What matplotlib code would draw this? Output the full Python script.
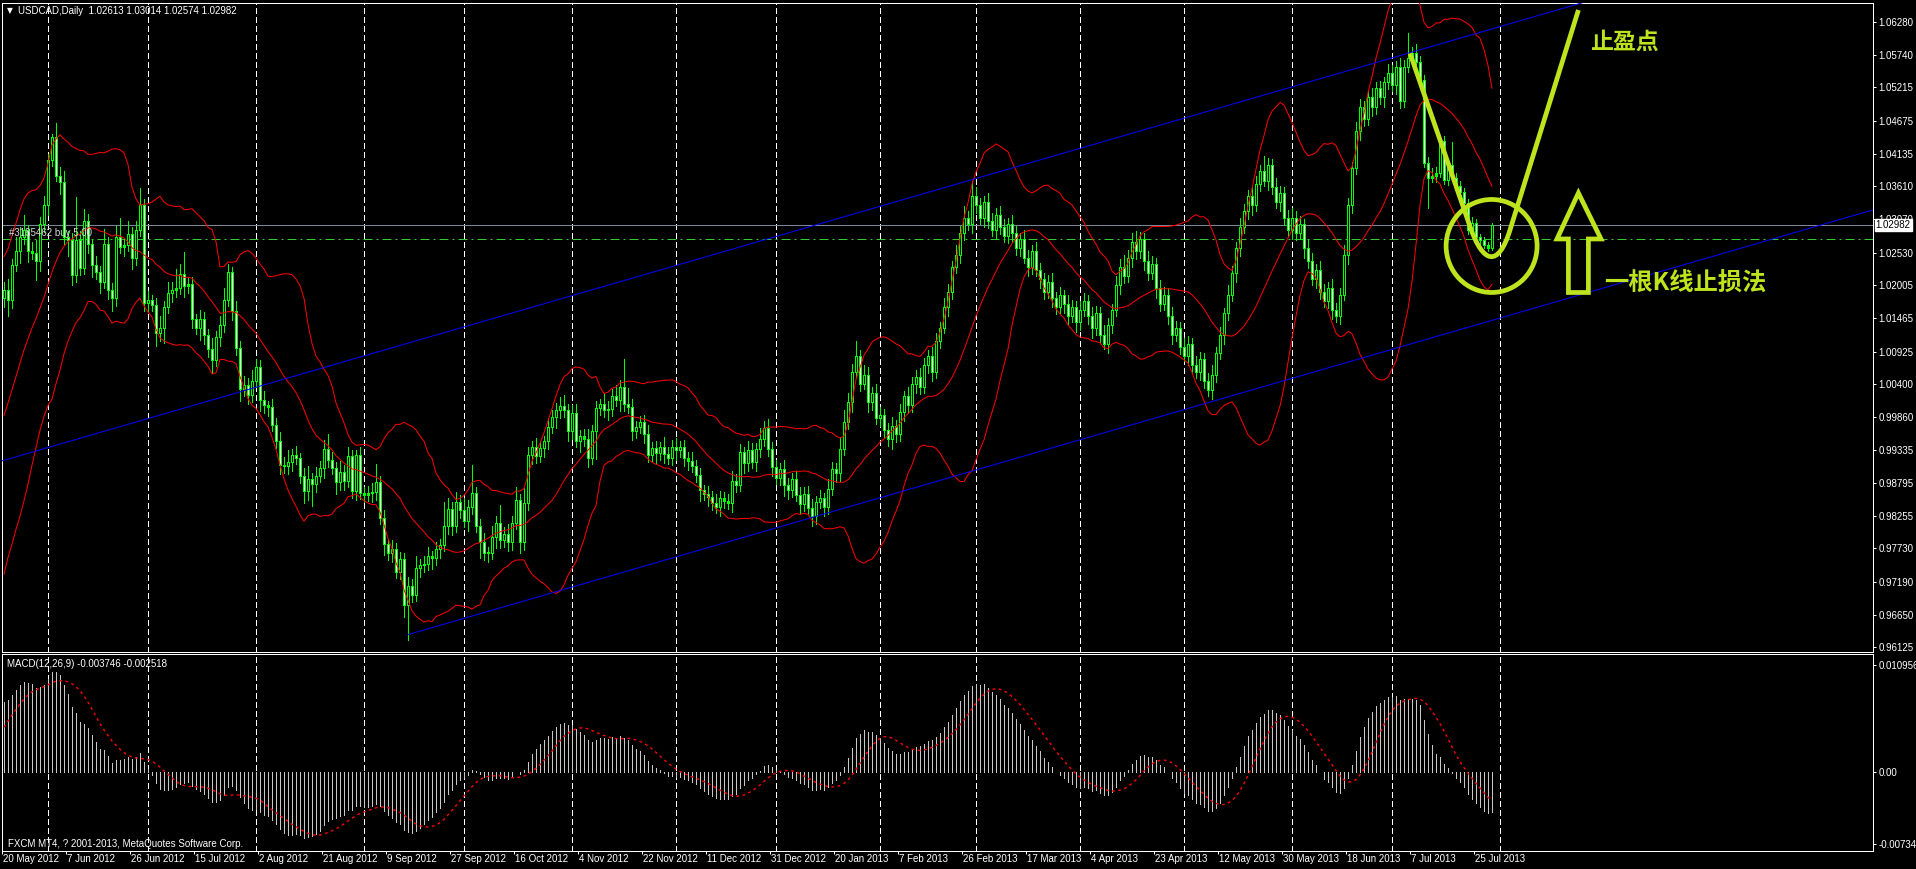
import numpy as np
import pandas as pd
import matplotlib
matplotlib.use("Agg")
import matplotlib.pyplot as plt
from matplotlib.patches import Ellipse, Polygon, PathPatch
from matplotlib.path import Path
from matplotlib.transforms import blended_transform_factory

plt.rcParams['font.family'] = ['Liberation Sans', 'DejaVu Sans']

# ---------------- data ----------------
symbol = "USDCAD,Daily"
last_open, last_high, last_low, last_close = 1.02613, 1.03014, 1.02574, 1.02982
bid_price = 1.02982
order_label = "#3185462 buy 5.00"
order_price = 1.02748
macd_shown = (-0.003746, -0.002518)

# estimated off-screen history (needed for the indicators at the left edge)
prior_closes = [
    0.9990, 0.9975, 1.0005, 0.9980, 0.9960, 0.9985, 0.9950, 0.9935, 0.9960, 0.9920,
    0.9905, 0.9930, 0.9890, 0.9875, 0.9895, 0.9860, 0.9845, 0.9870, 0.9830, 0.9815,
    0.9795, 0.9776, 0.9805, 0.9815, 0.9850, 0.9858, 0.9895, 0.9902, 0.9940, 0.9948,
    0.9985, 0.9992, 1.0030, 1.0038, 1.0075, 1.0082, 1.0120, 1.0128, 1.0165, 1.0180,
]

closes = [
    1.0193, 1.0176, 1.0233, 1.0256, 1.0279, 1.0290, 1.0256, 1.0253, 1.0239, 1.0299,
    1.0330, 1.0404, 1.0441, 1.0378, 1.0367, 1.0279, 1.0273, 1.0216, 1.0273, 1.0228,
    1.0304, 1.0267, 1.0233, 1.0222, 1.0205, 1.0267, 1.0193, 1.0179, 1.0279, 1.0262,
    1.0265, 1.0284, 1.0245, 1.0290, 1.0330, 1.0171, 1.0176, 1.0168, 1.0122, 1.0131,
    1.0165, 1.0188, 1.0193, 1.0196, 1.0219, 1.0199, 1.0202, 1.0145, 1.0131, 1.0145,
    1.0119, 1.0096, 1.0079, 1.0116, 1.0136, 1.0176, 1.0222, 1.0159, 1.0099, 1.0031,
    1.0039, 1.0022, 1.0045, 1.0068, 1.0014, 1.0005, 1.0003, 0.9974, 0.9948, 0.9909,
    0.9906, 0.9914, 0.9925, 0.9920, 0.9891, 0.9866, 0.9886, 0.9877, 0.9891, 0.9903,
    0.9934, 0.9917, 0.9903, 0.9880, 0.9897, 0.9883, 0.9923, 0.9866, 0.9925, 0.9863,
    0.9860, 0.9863, 0.9864, 0.9880, 0.9823, 0.9780, 0.9766, 0.9772, 0.9735, 0.9755,
    0.9681, 0.9712, 0.9698, 0.9741, 0.9746, 0.9748, 0.9760, 0.9758, 0.9772, 0.9779,
    0.9809, 0.9837, 0.9809, 0.9849, 0.9835, 0.9817, 0.9840, 0.9863, 0.9809, 0.9783,
    0.9766, 0.9766, 0.9792, 0.9814, 0.9786, 0.9797, 0.9783, 0.9814, 0.9852, 0.9783,
    0.9846, 0.9925, 0.9937, 0.9923, 0.9936, 0.9947, 0.9970, 0.9987, 0.9997, 1.0004,
    0.9997, 0.9963, 0.9993, 0.9948, 0.9955, 0.9951, 0.9920, 0.9963, 1.0001, 1.0008,
    0.9997, 1.0000, 1.0021, 1.0014, 1.0035, 1.0008, 1.0003, 0.9964, 0.9970, 0.9978,
    0.9959, 0.9925, 0.9936, 0.9928, 0.9938, 0.9927, 0.9920, 0.9937, 0.9932, 0.9937,
    0.9919, 0.9915, 0.9907, 0.9892, 0.9868, 0.9862, 0.9856, 0.9847, 0.9840, 0.9854,
    0.9850, 0.9847, 0.9883, 0.9876, 0.9930, 0.9911, 0.9932, 0.9914, 0.9934, 0.9950,
    0.9968, 0.9935, 0.9905, 0.9888, 0.9902, 0.9876, 0.9868, 0.9885, 0.9860, 0.9845,
    0.9862, 0.9838, 0.9825, 0.9848, 0.9855, 0.9840, 0.9870, 0.9902, 0.9895, 0.9935,
    0.9978, 1.0010, 1.0060, 1.0085, 1.0040, 1.0055, 1.0010, 1.0025, 0.9985, 0.9990,
    0.9965, 0.9950, 0.9972, 0.9958, 0.9995, 1.0020, 1.0005, 1.0040, 1.0052, 1.0035,
    1.0070, 1.0085, 1.0060, 1.0110, 1.0130, 1.0165, 1.0190, 1.0230, 1.0250, 1.0285,
    1.0310, 1.0300, 1.0345, 1.0330, 1.0310, 1.0335, 1.0305, 1.0290, 1.0315, 1.0295,
    1.0280, 1.0300, 1.0285, 1.0260, 1.0275, 1.0245, 1.0230, 1.0255, 1.0225, 1.0210,
    1.0190, 1.0205, 1.0180, 1.0165, 1.0185, 1.0170, 1.0150, 1.0165, 1.0140, 1.0160,
    1.0175, 1.0150, 1.0130, 1.0155, 1.0120, 1.0105, 1.0135, 1.0160, 1.0200, 1.0230,
    1.0215, 1.0245, 1.0270, 1.0255, 1.0275, 1.0240, 1.0220, 1.0235, 1.0195, 1.0170,
    1.0185, 1.0150, 1.0120, 1.0130, 1.0100, 1.0085, 1.0105, 1.0070, 1.0060, 1.0080,
    1.0045, 1.0030, 1.0055, 1.0090, 1.0120, 1.0155, 1.0185, 1.0220, 1.0260, 1.0295,
    1.0320, 1.0345, 1.0330, 1.0365, 1.0385, 1.0370, 1.0395, 1.0360, 1.0335, 1.0350,
    1.0310, 1.0290, 1.0310, 1.0285, 1.0300, 1.0260, 1.0240, 1.0210, 1.0225, 1.0190,
    1.0175, 1.0195, 1.0160, 1.0150, 1.0185, 1.0250, 1.0330, 1.0390, 1.0450, 1.0490,
    1.0470, 1.0505, 1.0490, 1.0520, 1.0505, 1.0530, 1.0545, 1.0525, 1.0555, 1.0500,
    1.0554, 1.0569, 1.0577, 1.0563, 1.0533, 1.0398, 1.0375, 1.0378, 1.0382, 1.0434,
    1.0371, 1.0395, 1.0375, 1.0362, 1.0352, 1.0334, 1.0290, 1.0301, 1.0278, 1.0273,
    1.0265, 1.0261, 1.02982,
]

wick_up_pips = [
    12, 18, 10, 22, 15, 25, 8, 14, 20, 12,
    15, 10, 5, 22, 14, 18, 10, 12, 70, 15,
    20, 12, 8, 15, 10, 25, 12, 10, 18, 30,
    12, 20, 10, 15, 28, 10, 15, 8, 12, 20,
    10, 18, 12, 30, 15, 35, 10, 12, 8, 15,
    12, 10, 18, 10, 15, 20, 12, 8, 15, 10,
    14, 10, 18, 12, 10, 15, 8, 12, 10, 14,
    12, 18, 10, 15, 8, 12, 20, 10, 14, 12,
    15, 25, 12, 10, 18, 12, 15, 10, 8, 12,
    10, 12, 15, 30, 10, 12, 8, 15, 10, 12,
    10, 15, 12, 20, 10, 12, 15, 8, 12, 10,
    40, 18, 12, 15, 10, 20, 12, 45, 10, 12,
    15, 10, 18, 12, 30, 10, 15, 12, 20, 10,
    25, 12, 10, 15, 12, 8, 15, 10, 12, 15,
    18, 10, 12, 15, 10, 12, 15, 10, 12, 8,
    15, 12, 10, 18, 12, 45, 25, 12, 10, 10,
    12, 15, 10, 12, 8, 15, 10, 12, 15, 10,
    12, 10, 15, 10, 12, 8, 12, 10, 15, 12,
    10, 12, 15, 10, 12, 8, 15, 12, 10, 18,
    12, 15, 10, 12, 10, 15, 12, 10, 14, 12,
    10, 12, 15, 10, 12, 8, 15, 12, 10, 18,
    20, 15, 12, 25, 10, 15, 12, 10, 15, 12,
    10, 12, 15, 10, 12, 8, 15, 12, 10, 14,
    12, 10, 15, 12, 10, 15, 12, 10, 15, 12,
    18, 10, 25, 15, 12, 10, 15, 12, 10, 14,
    12, 10, 15, 12, 10, 15, 12, 10, 15, 12,
    10, 12, 15, 10, 12, 8, 15, 12, 10, 14,
    12, 10, 15, 12, 10, 15, 12, 10, 15, 12,
    20, 12, 15, 18, 12, 10, 15, 12, 10, 14,
    12, 10, 15, 12, 10, 15, 12, 10, 15, 12,
    10, 12, 15, 10, 12, 8, 15, 12, 10, 14,
    12, 10, 15, 12, 10, 25, 12, 10, 15, 12,
    10, 12, 15, 10, 12, 8, 15, 12, 10, 14,
    12, 10, 15, 12, 10, 15, 12, 10, 15, 12,
    10, 12, 15, 10, 12, 8, 15, 12, 10, 14,
    12, 41, 10, 15, 10, 8, 10, 12, 10, 3,
    8, 10, 38, 8, 8, 6, 6, 10, 6, 5,
    6, 5, 0,
]

wick_dn_pips = [
    15, 25, 12, 10, 20, 12, 18, 10, 30, 15,
    12, 15, 10, 8, 18, 12, 25, 15, 10, 12,
    10, 15, 20, 12, 18, 10, 15, 20, 12, 10,
    15, 10, 18, 12, 10, 12, 15, 10, 20, 12,
    25, 10, 15, 12, 10, 18, 12, 15, 10, 20,
    15, 12, 22, 10, 15, 12, 10, 15, 12, 18,
    10, 15, 12, 10, 18, 12, 15, 10, 12, 15,
    10, 12, 15, 10, 12, 20, 15, 35, 12, 10,
    15, 12, 10, 18, 12, 15, 10, 12, 15, 10,
    12, 10, 15, 12, 10, 18, 12, 15, 10, 12,
    20, 57, 12, 10, 15, 12, 10, 18, 12, 15,
    10, 12, 15, 10, 12, 10, 15, 12, 10, 25,
    12, 15, 10, 18, 12, 10, 15, 12, 10, 18,
    12, 10, 15, 12, 10, 15, 12, 10, 18, 12,
    10, 15, 12, 10, 18, 12, 15, 10, 45, 12,
    10, 15, 12, 10, 18, 12, 10, 15, 12, 10,
    15, 12, 10, 18, 12, 15, 10, 12, 15, 10,
    12, 15, 10, 12, 18, 10, 15, 12, 10, 14,
    12, 10, 15, 12, 10, 15, 12, 10, 15, 12,
    10, 12, 15, 10, 12, 18, 15, 12, 10, 14,
    12, 10, 15, 12, 10, 15, 12, 10, 15, 12,
    10, 12, 15, 10, 12, 8, 15, 12, 10, 14,
    12, 10, 15, 12, 10, 15, 12, 10, 15, 12,
    10, 12, 15, 10, 12, 8, 15, 12, 10, 14,
    12, 10, 15, 12, 10, 15, 12, 10, 15, 12,
    10, 12, 15, 10, 12, 8, 15, 12, 10, 14,
    12, 10, 15, 12, 10, 15, 12, 10, 15, 12,
    10, 12, 15, 10, 12, 8, 15, 12, 10, 14,
    12, 10, 15, 12, 10, 15, 12, 10, 15, 12,
    10, 12, 15, 10, 12, 8, 15, 12, 10, 14,
    12, 10, 15, 12, 10, 15, 12, 10, 15, 12,
    10, 12, 15, 10, 12, 8, 15, 12, 10, 14,
    12, 10, 15, 12, 10, 15, 12, 10, 15, 12,
    10, 12, 15, 10, 12, 8, 15, 12, 10, 14,
    12, 10, 15, 12, 10, 15, 12, 10, 15, 12,
    10, 8, 6, 5, 5, 6, 50, 8, 10, 6,
    6, 8, 5, 6, 5, 8, 6, 8, 5, 6,
    5, 5, 0,
]

date_labels = [
    "20 May 2012", "7 Jun 2012", "26 Jun 2012", "15 Jul 2012", "2 Aug 2012",
    "21 Aug 2012", "9 Sep 2012", "27 Sep 2012", "16 Oct 2012", "4 Nov 2012",
    "22 Nov 2012", "11 Dec 2012", "31 Dec 2012", "20 Jan 2013", "7 Feb 2013",
    "26 Feb 2013", "17 Mar 2013", "4 Apr 2013", "23 Apr 2013", "12 May 2013",
    "30 May 2013", "18 Jun 2013", "7 Jul 2013", "25 Jul 2013",
]
bars_per_label = 16
month_start_bars = [11, 36, 63, 90, 115, 142, 168, 193, 219, 243, 269, 295, 322, 347, 374]

price_ticks = [1.06280, 1.05740, 1.05215, 1.04675, 1.04135, 1.03610, 1.03070,
               1.02530, 1.02005, 1.01465, 1.00925, 1.00400, 0.99860, 0.99335,
               0.98795, 0.98255, 0.97730, 0.97190, 0.96650, 0.96125]
macd_ticks = [0.010956, 0.0, -0.00734]
macd_tick_labels = ["0.010956", "0.00", "-0.00734"]

# equidistant channel anchors (bar index, price)
channel_p1 = (0, 0.9916)
channel_p2 = (349, 1.0573)
channel_lower_start = (101, 0.9633)

# hand-drawn annotation anchors (bar index, price)
stroke_pts = [(351.5, 1.05767), (366.5, 1.02957), (369.8, 1.02334),
              (373.6, 1.02291), (376.5, 1.02898), (393.6, 1.06470)]
circle_center = (371.9, 1.02639)
circle_size = (22.75, 0.0151)
arrow_pts = [(393.6, 1.03499), (399.25, 1.02753), (396.1, 1.02753), (396.1, 1.01884),
             (391.1, 1.01884), (391.1, 1.02753), (388.25, 1.02753)]
text_tp = ("止盈点", 396.5, 1.0595)
text_sl = ("一根K线止损法", 400.0, 1.0203)

# ---------------- figure ----------------
W, H = 1916, 869
fig = plt.figure(figsize=(W / 100, H / 100), dpi=100, facecolor='black')


def px_axes(l, t, r, b):
    return fig.add_axes([l / W, 1 - b / H, (r - l) / W, (b - t) / H])


ax = px_axes(2, 3, 1873, 652)
axm = px_axes(2, 654, 1873, 851)
PX = 0.72  # one pixel in points

XMIN, XMAX = -0.5, 467.25
for a in (ax, axm):
    a.set_facecolor('black')
    a.set_xlim(XMIN, XMAX)
    for s in a.spines.values():
        s.set_color('white')
        s.set_linewidth(PX)
    a.yaxis.tick_right()
    a.tick_params(axis='y', colors='white', labelsize=7, length=2.2, width=PX, pad=1.6,
                  direction='out')
    for mb in month_start_bars:
        a.axvline(mb, color='white', lw=PX, ls=(0, (5.5, 4)), zorder=0.5, antialiased=False)

ax.set_ylim(0.960477, 1.065836)
axm.set_ylim(-0.008053, 0.012029)
ax.set_yticks(price_ticks)
ax.set_yticklabels([f"{v:.5f}" for v in price_ticks])
axm.set_yticks(macd_ticks)
axm.set_yticklabels(macd_tick_labels)
ax.set_xticks([])

label_bars = np.arange(len(date_labels)) * bars_per_label
axm.set_xticks(label_bars - 0.5)
axm.tick_params(axis='x', colors='white', length=2.2, width=PX, direction='out',
                labelbottom=False)
tr = blended_transform_factory(axm.transData, axm.transAxes)
for b, lab in zip(label_bars, date_labels):
    axm.text(b - 0.25, -0.042, lab, transform=tr, ha='left', va='center',
             fontsize=7, color='white', clip_on=False)

# ---------------- candles ----------------
n = len(closes)
x = np.arange(n)
c = np.array(closes, dtype=float)
o = np.empty(n)
o[0] = prior_closes[-1]
o[1:] = c[:-1]
o[-1] = last_open
hi = np.maximum(o, c) + np.array(wick_up_pips[:n]) * 1e-4
lo = np.minimum(o, c) - np.array(wick_dn_pips[:n]) * 1e-4
hi[-1], lo[-1] = last_high, last_low

ppx = (1.065836 - 0.960477) / 649.0
top = np.maximum(o, c)
bot = np.minimum(o, c)
thin = (top - bot) < ppx
top = np.where(thin, bot + ppx, top)

ax.vlines(x, lo, hi, color='#00FF00', lw=PX, zorder=3, antialiased=False)
ax.vlines(x, bot, top, color='#00FF00', lw=3 * PX, zorder=3.1, antialiased=False,
          capstyle='butt')
inner = (top - bot) > 2.5 * ppx
fill = np.where(c < o, 'white', 'black')
ax.vlines(x[inner], bot[inner] + ppx, top[inner] - ppx, colors=list(fill[inner]),
          lw=PX, zorder=3.2, antialiased=False, capstyle='butt')

# ---------------- indicators ----------------
allc = pd.Series(np.r_[prior_closes, c])
k = len(prior_closes)
mid = allc.rolling(20).mean()
sd = allc.rolling(20).std(ddof=0)
for band in (mid + 2 * sd, mid, mid - 2 * sd):
    ax.plot(x, band.values[k:], color='#FF0000', lw=PX, zorder=4)

ema12 = allc.ewm(span=12, adjust=False).mean()
ema26 = allc.ewm(span=26, adjust=False).mean()
macd = (ema12 - ema26)
signal = macd.rolling(9, min_periods=1).mean()
axm.vlines(x, 0, macd.values[k:], color='#C8C8C8', lw=PX, zorder=3, antialiased=False)
axm.plot(x, signal.values[k:], color='#FF0000', lw=1.0, ls=(0, (2, 2.5)), zorder=4)

# ---------------- lines / objects ----------------
ax.axhline(bid_price, color='#778899', lw=PX, zorder=2)
ax.axhline(order_price, color='#32CD32', lw=PX, ls=(0, (9, 4, 2, 4)), zorder=2)
ax.text(1.25, order_price + 0.00095, order_label, color='#D8D8D8', fontsize=7,
        ha='left', va='center', zorder=6)

slope = (channel_p2[1] - channel_p1[1]) / (channel_p2[0] - channel_p1[0])
xs = np.array([XMIN - 1, XMAX + 1])
ax.plot(xs, channel_p1[1] + slope * (xs - channel_p1[0]), color='#0000FF', lw=PX, zorder=5)
xl = np.array([channel_lower_start[0], XMAX + 1])
ax.plot(xl, channel_lower_start[1] + slope * (xl - channel_lower_start[0]),
        color='#0000FF', lw=PX, zorder=5)

ax.text(1.0015, bid_price, f"{bid_price:.5f}", transform=ax.get_yaxis_transform(),
        ha='left', va='center', fontsize=7, color='black', zorder=10, clip_on=False,
        bbox=dict(boxstyle='square,pad=0.12', fc='white', ec='white'))

# ---------------- annotations ----------------
ann = '#BEE41E'
codes = [Path.MOVETO, Path.LINETO, Path.CURVE4, Path.CURVE4, Path.CURVE4, Path.LINETO]
ax.add_patch(PathPatch(Path(stroke_pts, codes), fill=False, ec=ann, lw=3.4,
                       capstyle='butt', joinstyle='round', zorder=7))
ax.add_patch(Ellipse(circle_center, circle_size[0], circle_size[1], fill=False,
                     ec=ann, lw=3.4, zorder=7))
ax.add_patch(Polygon(arrow_pts, closed=True, fill=False, ec=ann, lw=3.4,
                     joinstyle='miter', zorder=7))
cjk = ['Noto Sans CJK SC', 'DejaVu Sans']
ax.text(text_tp[1], text_tp[2], text_tp[0], color=ann, fontsize=16.5, fontweight='bold',
        family=cjk, ha='left', va='center', zorder=8)
ax.text(text_sl[1], text_sl[2], text_sl[0], color=ann, fontsize=17.5, fontweight='bold',
        family=cjk, ha='left', va='center', zorder=8)

# ---------------- header texts ----------------
fig.text(7 / W, 1 - 11 / H, "▼", color='white', fontsize=5.5, va='center', ha='left',
         family=['DejaVu Sans'])
fig.text(18 / W, 1 - 11 / H,
         f"{symbol}  {last_open:.5f} {last_high:.5f} {last_low:.5f} {last_close:.5f}",
         color='white', fontsize=7, va='center', ha='left')
fig.text(7 / W, 1 - 664 / H, f"MACD(12,26,9) {macd_shown[0]:.6f} {macd_shown[1]:.6f}",
         color='white', fontsize=7, va='center', ha='left')
fig.text(8 / W, 1 - 844 / H, "FXCM MT4, ? 2001-2013, MetaQuotes Software Corp.",
         color='white', fontsize=7, va='center', ha='left')

fig.savefig("out.png", dpi=100, facecolor='black')
